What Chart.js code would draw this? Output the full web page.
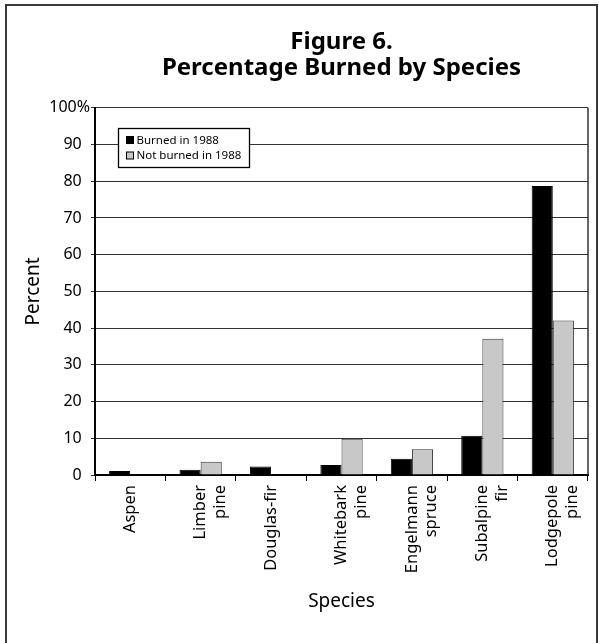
<!DOCTYPE html>
<html>
<head>
<meta charset="utf-8">
<script src="https://cdn.jsdelivr.net/npm/chart.js"></script>
<style>
  body {
    margin: 0;
    background: #ffffff;
    overflow: hidden;
  }
  #frame {
    position: absolute;
    left: 5px;
    top: 4px;
    width: 589px;
    height: 680px;
    border: 2px solid #3a3a3a;
  }
  #myChart {
    position: absolute;
    left: 0;
    top: 0;
  }
</style>
</head>
<body>
<div id="frame"></div>
<canvas id="myChart" width="599" height="643"></canvas>

<script>
  const species = [
    'Aspen',
    ['Limber', 'pine'],
    'Douglas-fir',
    ['Whitebark', 'pine'],
    ['Engelmann', 'spruce'],
    ['Subalpine', 'fir'],
    ['Lodgepole', 'pine']
  ];
  const burned = [1.1, 1.4, 2.3, 2.7, 4.4, 10.7, 78.7];
  const notBurned = [0, 3.6, 0.2, 9.9, 7.0, 37.1, 42.1];
  // the "%" hangs past the other labels, so pad those with spaces
  const yTickLabels = ['0  ', '10  ', '20  ', '30  ', '40  ', '50  ', '60  ', '70  ', '80  ', '90  ', '100%'];

  const fontFamily = "'Noto Sans', 'Open Sans', sans-serif";

  // legend box sitting inside the plot, like the original
  const boxLegend = {
    id: 'boxLegend',
    afterDraw(chart) {
      const ctx = chart.ctx;
      const area = chart.chartArea;
      const x = Math.round(area.left + 23) + 0.5;
      const y = Math.round(area.top + 20) + 0.5;
      const w = 131, h = 39;
      ctx.save();
      ctx.fillStyle = '#ffffff';
      ctx.fillRect(x, y, w, h);
      ctx.strokeStyle = '#000000';
      ctx.lineWidth = 1.3;
      ctx.strokeRect(x, y, w, h);
      ctx.font = '11.5px ' + fontFamily;
      ctx.textBaseline = 'middle';
      chart.data.datasets.forEach(function (ds, i) {
        const cy = y + 11.5 + i * 15.5;
        ctx.fillStyle = ds.backgroundColor;
        ctx.fillRect(x + 8, cy - 3.5, 7, 7);
        ctx.strokeStyle = '#000000';
        ctx.lineWidth = 1;
        ctx.strokeRect(x + 8, cy - 3.5, 7, 7);
        ctx.fillStyle = '#000000';
        ctx.fillText(ds.label, x + 18, cy + 0.5);
      });
      ctx.restore();
    }
  };

  // right edge of the plot area
  const plotEdge = {
    id: 'plotEdge',
    afterDatasetsDraw(chart) {
      const ctx = chart.ctx;
      const a = chart.chartArea;
      ctx.save();
      ctx.strokeStyle = '#333333';
      ctx.lineWidth = 1.5;
      ctx.beginPath();
      ctx.moveTo(a.right, a.top);
      ctx.lineTo(a.right, a.bottom);
      ctx.stroke();
      ctx.restore();
    }
  };

  const data = {
    labels: species,
    datasets: [{
      label: 'Burned in 1988',
      data: burned,
      backgroundColor: '#000000',
      borderColor: '#000000',
      borderWidth: 1
    }, {
      label: 'Not burned in 1988',
      data: notBurned,
      backgroundColor: '#c8c8c8',
      borderColor: '#333333',
      borderWidth: 1
    }]
  };

  const config = {
    type: 'bar',
    data: data,
    plugins: [boxLegend, plotEdge],
    options: {
      responsive: false,
      animation: false,
      categoryPercentage: 0.6,
      barPercentage: 1.0,
      layout: {
        padding: { left: 8, right: 11, top: 0, bottom: 0 }
      },
      plugins: {
        legend: { display: false },
        tooltip: { enabled: false },
        title: {
          display: true,
          fullSize: false,
          text: ['Figure 6.', 'Percentage Burned by Species'],
          color: '#000000',
          font: { family: fontFamily, size: 24, weight: 'bold', lineHeight: 1.08 },
          padding: { top: 29, bottom: 27 }
        }
      },
      scales: {
        x: {
          grid: {
            offset: true,
            drawOnChartArea: false,
            tickLength: 6,
            color: '#000000'
          },
          border: { color: '#000000', width: 2 },
          ticks: {
            color: '#000000',
            minRotation: 90,
            maxRotation: 90,
            autoSkip: false,
            padding: 4,
            font: { family: fontFamily, size: 16.5, lineHeight: 1.2 }
          },
          title: {
            display: true,
            text: 'Species',
            color: '#000000',
            font: { family: fontFamily, size: 19, lineHeight: 1.2 },
            padding: { top: 4, bottom: 30 }
          },
          afterFit(scale) {
            scale.height = 168;
          }
        },
        y: {
          min: 0,
          max: 100,
          grid: {
            color: '#333333',
            lineWidth: 1,
            tickLength: 4
          },
          border: { color: '#000000', width: 2 },
          ticks: {
            stepSize: 10,
            color: '#000000',
            padding: 1,
            font: { family: fontFamily, size: 16 },
            callback: function (value, index) {
              return yTickLabels[index];
            }
          },
          title: {
            display: true,
            text: 'Percent',
            color: '#000000',
            font: { family: fontFamily, size: 19, lineHeight: 1.2 },
            padding: { top: 14, bottom: 0 }
          },
          afterFit(scale) {
            scale.width = 87;
          }
        }
      }
    }
  };

  const myChart = new Chart(document.getElementById('myChart'), config);
</script>
</body>
</html>
